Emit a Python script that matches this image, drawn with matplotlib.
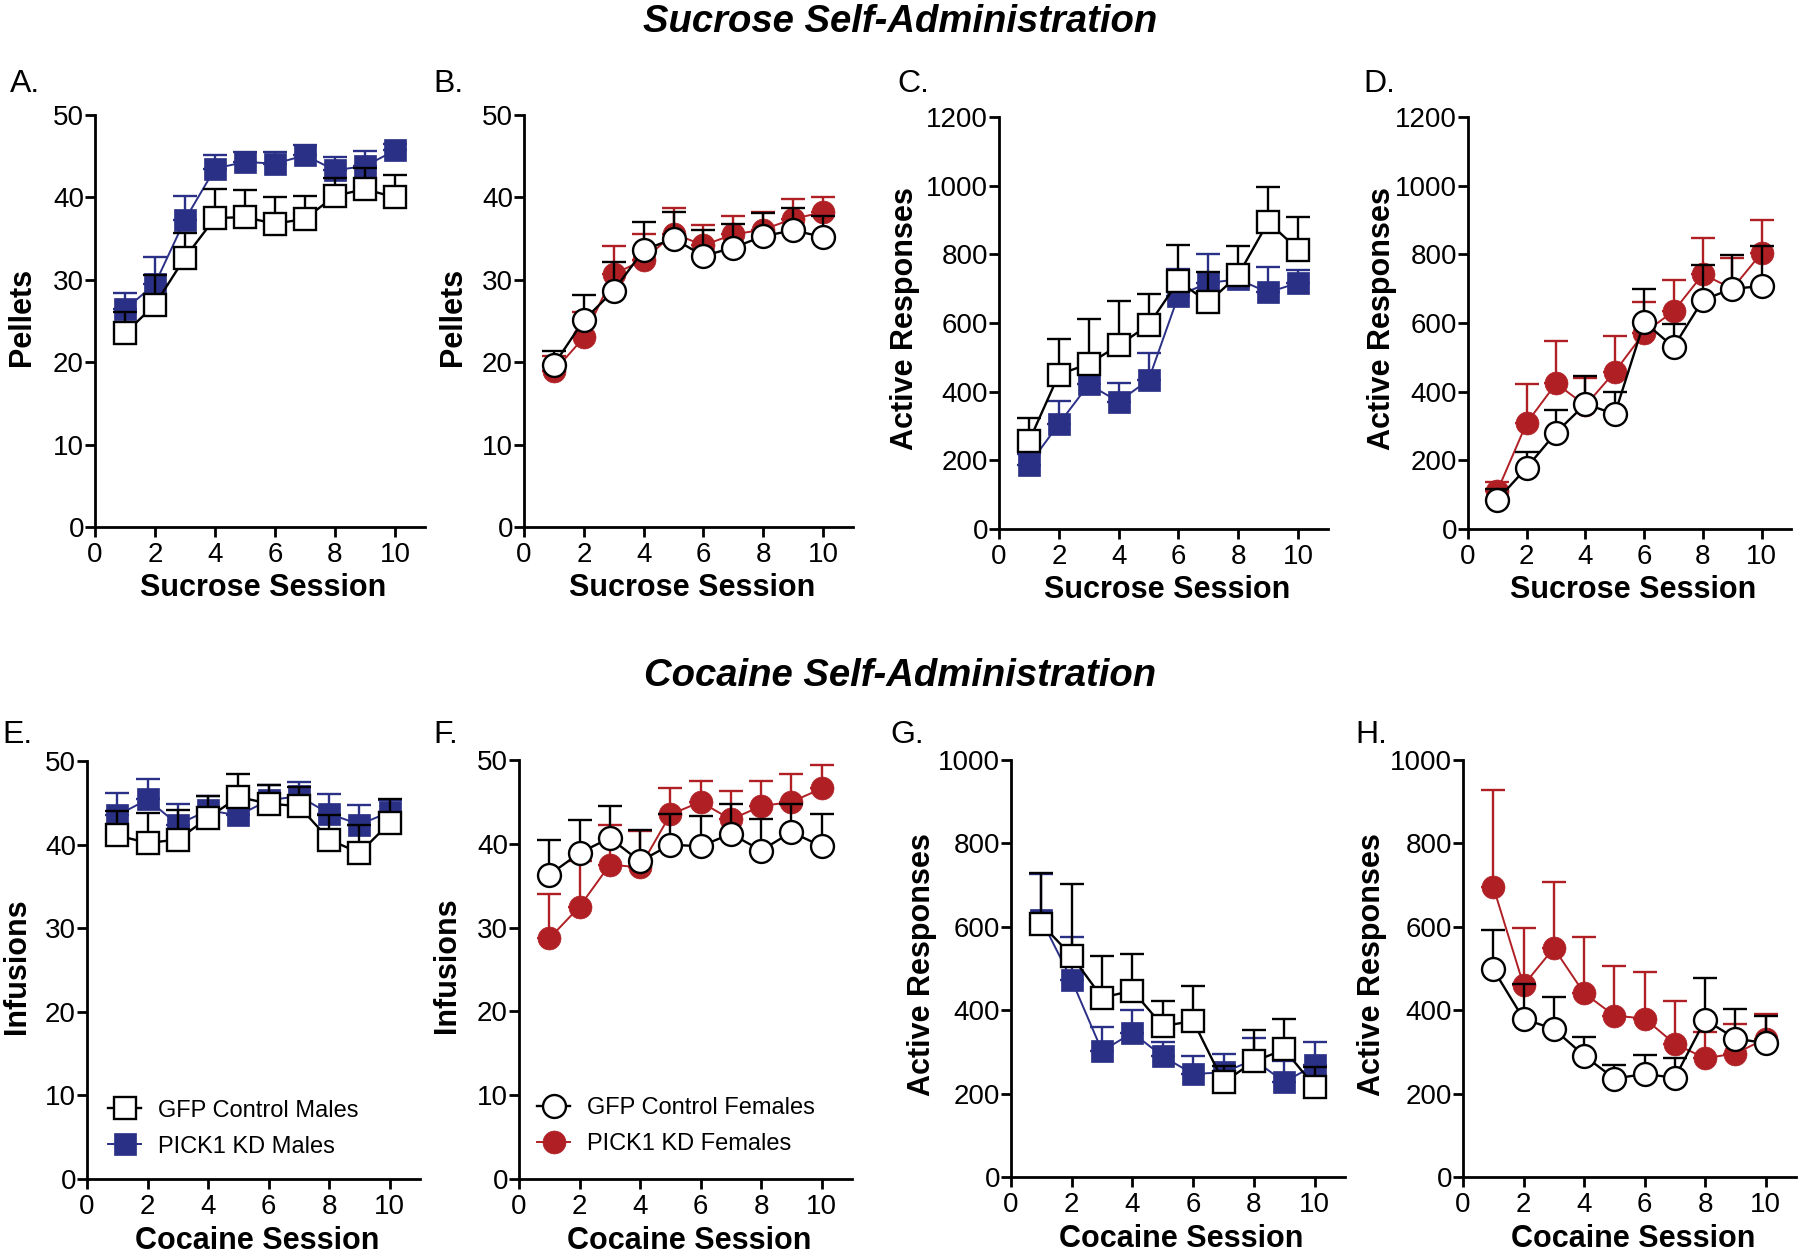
import matplotlib
matplotlib.use('Agg')
import matplotlib.pyplot as plt
import numpy as np

plt.rcParams['font.family'] = ['Liberation Sans', 'DejaVu Sans']

BLUE = '#2b3087'
RED = '#b01f24'

sessions = np.arange(1, 11)

# --- Sucrose: pellets (A males, B females) ---
a_gfp = [23.5, 27.0, 32.7, 37.5, 37.6, 36.8, 37.4, 40.2, 41.0, 40.0]
a_gfp_err = [2.6, 3.6, 3.0, 3.5, 3.3, 3.2, 2.8, 2.2, 2.6, 2.7]
a_kd = [26.4, 29.5, 37.3, 43.5, 44.3, 44.1, 45.1, 43.3, 43.8, 45.7]
a_kd_err = [2.0, 3.3, 2.9, 1.7, 1.2, 1.4, 1.2, 1.6, 1.8, 0.8]

b_gfp = [19.7, 25.1, 28.7, 33.6, 35.0, 32.9, 33.9, 35.3, 36.0, 35.2]
b_gfp_err = [1.6, 3.1, 3.4, 3.4, 3.2, 3.2, 2.9, 2.8, 2.7, 2.6]
b_kd = [18.9, 23.0, 30.7, 32.4, 35.6, 34.2, 35.5, 36.1, 37.4, 38.2]
b_kd_err = [1.8, 3.1, 3.4, 3.1, 3.1, 2.4, 2.2, 2.1, 2.4, 1.8]

# --- Sucrose: active responses (C males, D females) ---
c_gfp = [255, 450, 481, 535, 594, 722, 660, 740, 894, 814]
c_gfp_err = [67, 103, 130, 128, 90, 104, 88, 83, 101, 95]
c_kd = [187, 306, 421, 371, 434, 680, 717, 727, 689, 717]
c_kd_err = [31, 66, 41, 55, 78, 78, 83, 16, 75, 36]

d_gfp = [85, 179, 281, 364, 335, 603, 530, 667, 700, 707]
d_gfp_err = [32, 44, 65, 81, 63, 97, 66, 101, 99, 116]
d_kd = [111, 309, 424, 360, 458, 572, 634, 742, 700, 804]
d_kd_err = [27, 113, 125, 80, 103, 89, 92, 107, 90, 96]

# --- Cocaine: infusions (E males, F females) ---
e_gfp = [41.1, 40.2, 40.6, 43.2, 45.7, 44.9, 44.6, 40.6, 39.0, 42.6]
e_gfp_err = [2.9, 3.6, 3.5, 2.6, 2.7, 2.2, 2.3, 3.0, 3.4, 2.8]
e_kd = [43.5, 45.4, 42.4, 44.1, 43.5, 45.3, 45.8, 43.7, 42.4, 43.9]
e_kd_err = [2.7, 2.5, 2.5, 1.7, 1.1, 1.8, 1.7, 2.4, 2.3, 1.4]

f_gfp = [36.3, 38.9, 40.7, 37.9, 39.9, 39.7, 41.2, 39.2, 41.4, 39.7]
f_gfp_err = [4.1, 3.9, 3.8, 3.8, 3.7, 3.6, 3.6, 3.8, 3.4, 3.8]
f_kd = [28.7, 32.5, 37.5, 37.2, 43.5, 45.0, 42.9, 44.5, 45.0, 46.6]
f_kd_err = [5.3, 5.5, 4.7, 4.3, 3.2, 2.5, 3.4, 3.0, 3.3, 2.8]

# --- Cocaine: active responses (G males, H females) ---
g_gfp = [607, 530, 430, 447, 362, 374, 227, 277, 306, 217]
g_gfp_err = [123, 172, 100, 87, 61, 84, 39, 76, 73, 47]
g_kd = [617, 472, 302, 346, 289, 247, 251, 281, 228, 268]
g_kd_err = [109, 104, 58, 54, 34, 44, 43, 53, 49, 55]

h_gfp = [498, 379, 355, 291, 236, 247, 238, 377, 332, 321]
h_gfp_err = [95, 85, 76, 45, 32, 45, 47, 101, 72, 64]
h_kd = [696, 460, 549, 441, 387, 380, 319, 285, 296, 332]
h_kd_err = [233, 138, 159, 135, 118, 111, 104, 62, 72, 59]

W, H = 1800, 1256
fig = plt.figure(figsize=(W / 100, H / 100), dpi=100)


def make_axes(left, right, top, bottom):
    return fig.add_axes([left / W, 1 - bottom / H, (right - left) / W, (bottom - top) / H])


def draw_group(ax, y, err, color, marker, filled, z):
    y = np.asarray(y, dtype=float)
    err = np.asarray(err, dtype=float)
    ax.errorbar(sessions, y, yerr=[np.zeros_like(err), err], fmt='none',
                ecolor=color, elinewidth=1.7, capsize=8.3, capthick=1.7,
                zorder=z, clip_on=False)
    face = color if filled else 'white'
    line, = ax.plot(sessions, y, color=color, lw=1.7 if not filled else 1.4,
                    marker=marker, markersize=16 if marker == 's' else 16.5,
                    markerfacecolor=face, markeredgecolor=color,
                    markeredgewidth=1.7 if not filled else 0.5,
                    zorder=z + 1, clip_on=False)
    return line


def style_axes(ax, ymax, ystep, ylabel, xlabel, ylab_x):
    ax.set_xlim(0, 11)
    ax.set_ylim(0, ymax)
    ax.set_xticks(np.arange(0, 11, 2))
    ax.set_yticks(np.arange(0, ymax + 1, ystep))
    for s in ['top', 'right']:
        ax.spines[s].set_visible(False)
    for s in ['left', 'bottom']:
        ax.spines[s].set_linewidth(2.0)
    ax.tick_params(direction='out', length=7, width=2.0, labelsize=20,
                   colors='black')
    ax.tick_params(axis='y', pad=1)
    ax.tick_params(axis='x', pad=4)
    ax.set_ylabel(ylabel, fontsize=22, fontweight='bold', va='center')
    ax.set_xlabel(xlabel, fontsize=22, fontweight='bold', va='center')
    ax.yaxis.set_label_coords(ylab_x, 0.51)
    ax.xaxis.set_label_coords(0.51, -0.149)


panels = [
    # letter, box (l, r, t, b), gfp, gfp_err, kd, kd_err, color, marker, ymax, ystep, ylabel, xlabel, ylab_x
    ('A.', (95, 425, 115, 527), a_gfp, a_gfp_err, a_kd, a_kd_err, BLUE, 's', 50, 10,
     'Pellets', 'Sucrose Session', -0.22),
    ('B.', (524, 853, 115, 527), b_gfp, b_gfp_err, b_kd, b_kd_err, RED, 'o', 50, 10,
     'Pellets', 'Sucrose Session', -0.216),
    ('C.', (999, 1328, 117, 529), c_gfp, c_gfp_err, c_kd, c_kd_err, BLUE, 's', 1200, 200,
     'Active Responses', 'Sucrose Session', -0.285),
    ('D.', (1468, 1791, 117, 529), d_gfp, d_gfp_err, d_kd, d_kd_err, RED, 'o', 1200, 200,
     'Active Responses', 'Sucrose Session', -0.266),
    ('E.', (87, 420, 761, 1179), e_gfp, e_gfp_err, e_kd, e_kd_err, BLUE, 's', 50, 10,
     'Infusions', 'Cocaine Session', -0.21),
    ('F.', (519, 852, 760, 1179), f_gfp, f_gfp_err, f_kd, f_kd_err, RED, 'o', 50, 10,
     'Infusions', 'Cocaine Session', -0.216),
    ('G.', (1011, 1345, 760, 1177), g_gfp, g_gfp_err, g_kd, g_kd_err, BLUE, 's', 1000, 200,
     'Active Responses', 'Cocaine Session', -0.266),
    ('H.', (1463, 1796, 760, 1177), h_gfp, h_gfp_err, h_kd, h_kd_err, RED, 'o', 1000, 200,
     'Active Responses', 'Cocaine Session', -0.273),
]

letter_pos = {'A.': (10, 92), 'B.': (433, 92), 'C.': (897, 92), 'D.': (1363, 92),
              'E.': (2, 743), 'F.': (433, 743), 'G.': (890, 743), 'H.': (1355, 743)}

axes = {}
for (letter, box, gfp, gfp_err, kd, kd_err, color, marker, ymax, ystep,
     ylabel, xlabel, ylab_x) in panels:
    ax = make_axes(*box)
    kd_line = draw_group(ax, kd, kd_err, color, marker, True, 2)
    gfp_line = draw_group(ax, gfp, gfp_err, 'black', marker, False, 4)
    style_axes(ax, ymax, ystep, ylabel, xlabel, ylab_x)
    lx, ly = letter_pos[letter]
    fig.text(lx / W, 1 - ly / H, letter, fontsize=23, ha='left', va='baseline')
    axes[letter] = (ax, gfp_line, kd_line)

# legends
ax, gl, kl = axes['E.']
ax.legend([gl, kl], ['GFP Control Males', 'PICK1 KD Males'], loc='upper left',
          bbox_to_anchor=(0.063, 0.19), frameon=False, fontsize=17,
          handlelength=1.4, handletextpad=0.7, labelspacing=0.6,
          borderpad=0, borderaxespad=0)
ax, gl, kl = axes['F.']
ax.legend([gl, kl], ['GFP Control Females', 'PICK1 KD Females'], loc='upper left',
          bbox_to_anchor=(0.054, 0.195), frameon=False, fontsize=17,
          handlelength=1.4, handletextpad=0.7, labelspacing=0.6,
          borderpad=0, borderaxespad=0)

fig.text(900 / W, 1 - 32 / H, 'Sucrose Self-Administration', fontsize=27.5,
         fontweight='bold', fontstyle='italic', ha='center', va='baseline')
fig.text(900 / W, 1 - 686 / H, 'Cocaine Self-Administration', fontsize=27.5,
         fontweight='bold', fontstyle='italic', ha='center', va='baseline')

fig.savefig('out.png', dpi=100, facecolor='white')
